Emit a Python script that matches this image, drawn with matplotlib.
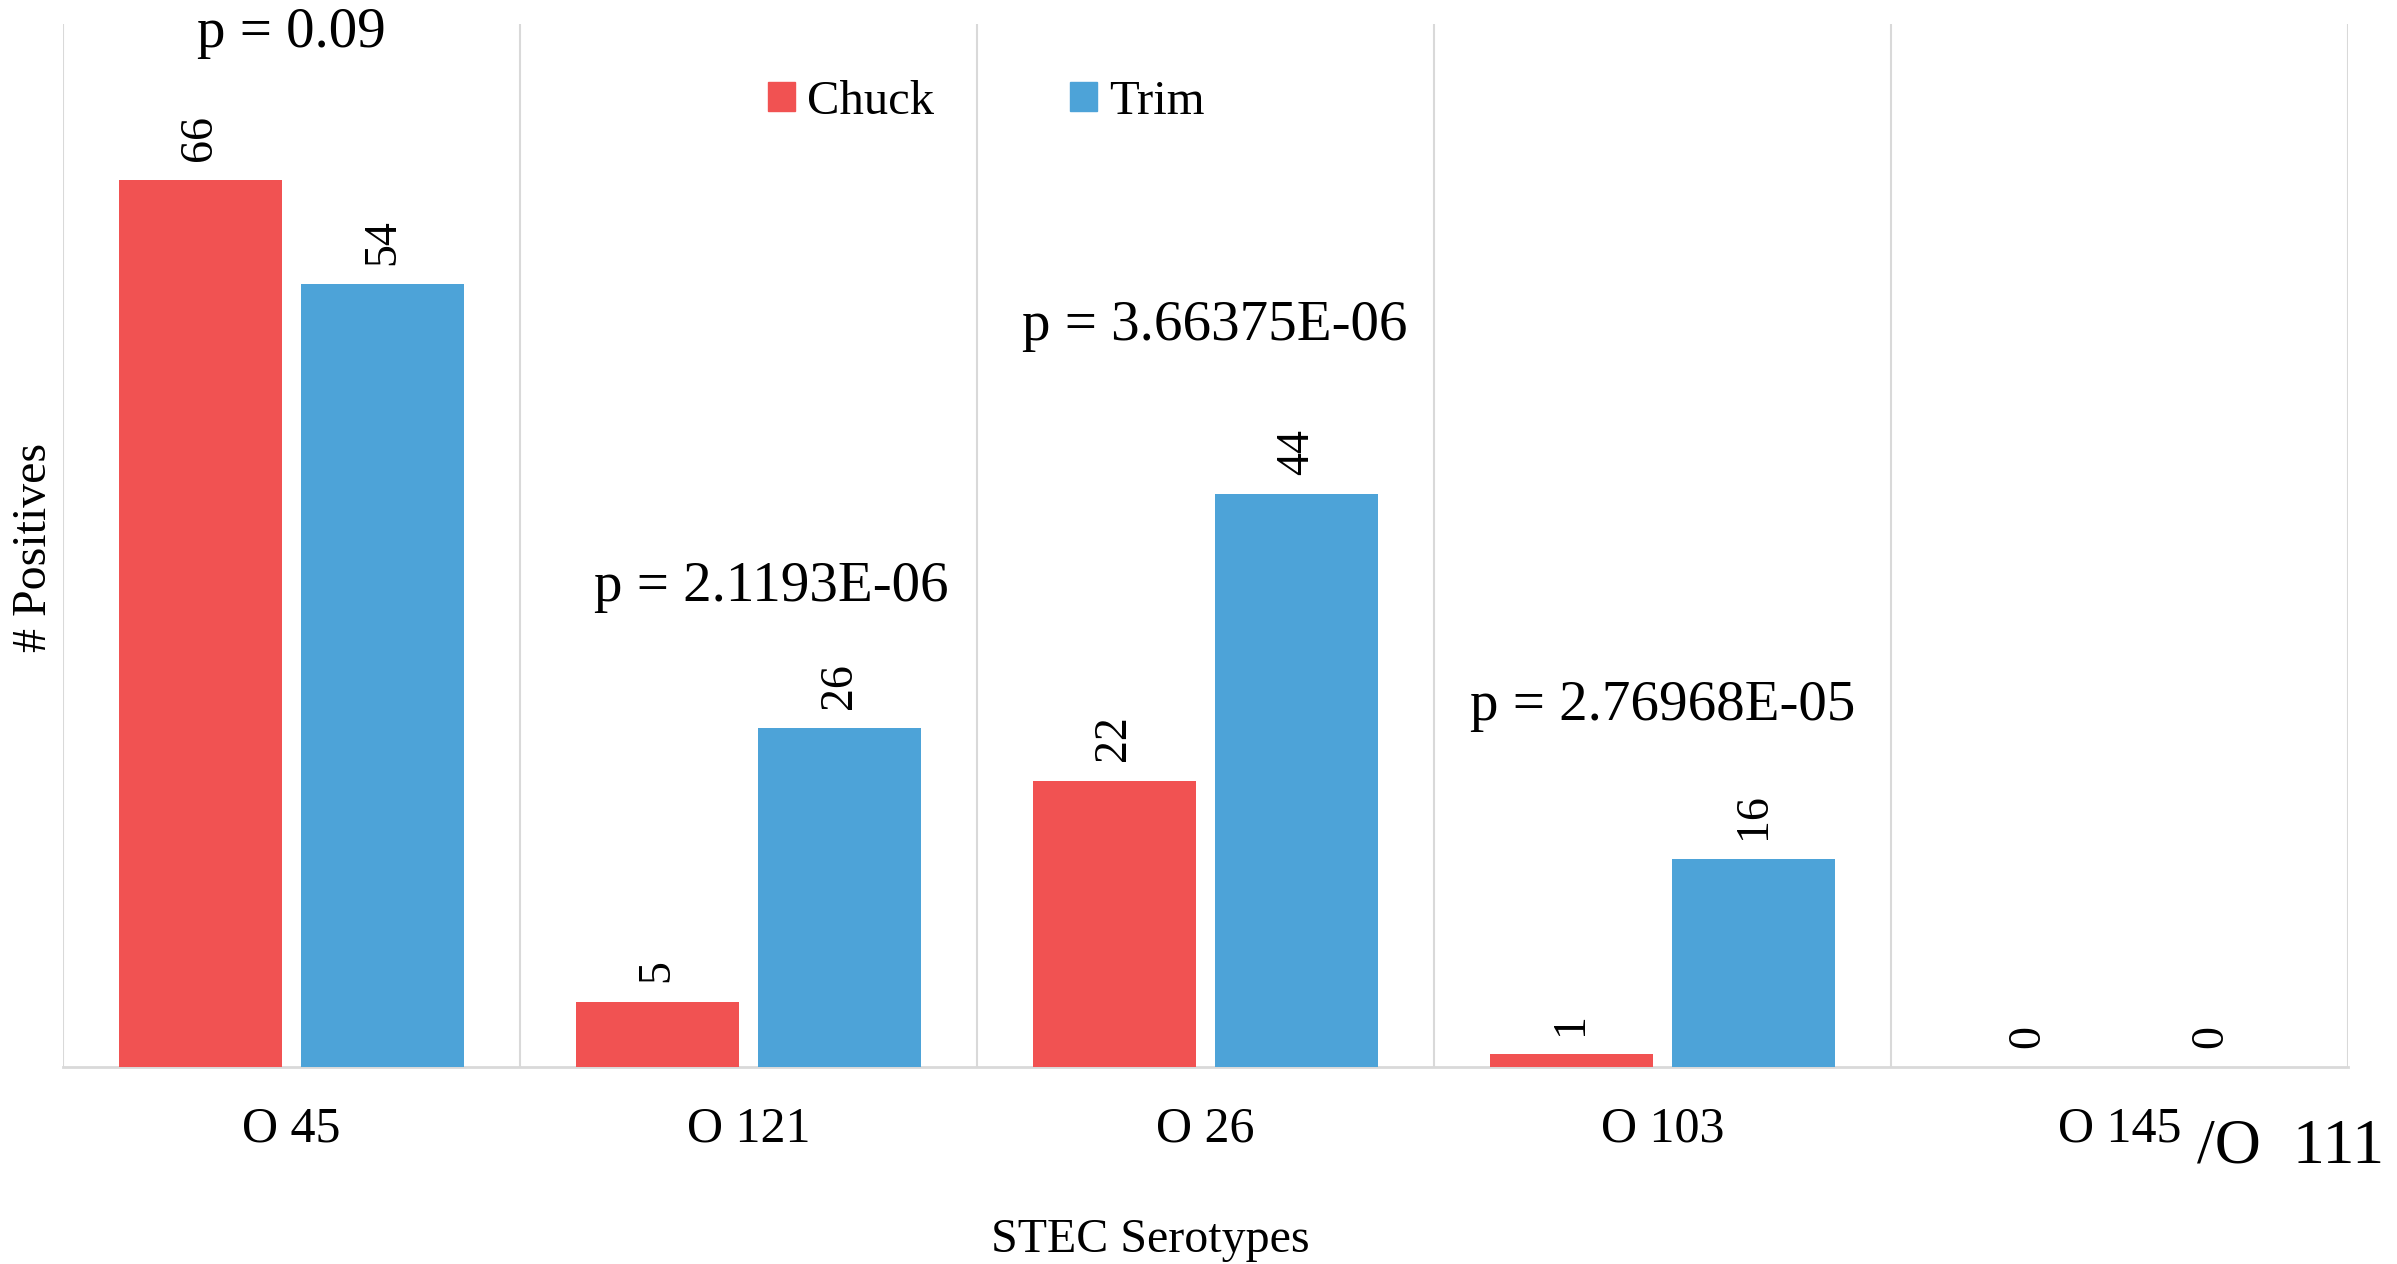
import matplotlib
matplotlib.use("Agg")
import matplotlib.pyplot as plt
from matplotlib.patches import Patch
import numpy as np

plt.rcParams['font.family'] = ['Liberation Serif', 'DejaVu Serif']

categories = ["O 45", "O 121", "O 26", "O 103", "O 145"]
series_names = ["Chuck", "Trim"]
chuck_labels = [66, 5, 22, 1, 0]
trim_labels = [54, 26, 44, 16, 0]
# bar heights as drawn in the reference (first group drawn taller than its labels)
chuck_heights = [68.1, 5, 22, 1, 0]
trim_heights = [60.1, 26, 44, 16, 0]
p_texts = ["p = 0.09", "p = 2.1193E-06", "p = 3.66375E-06", "p = 2.76968E-05"]
extra_tick = "/O  111"

RED = "#F15252"
BLUE = "#4DA3D8"
GRID = "#D9D9D9"

W, H = 2397, 1264
fig = plt.figure(figsize=(W / 100, H / 100), dpi=100)
left, right, bottom, top = 63, 2348, 1067, 24
ax = fig.add_axes([left / W, 1 - bottom / H, (right - left) / W, (bottom - top) / H])

x = np.arange(len(categories))
bw = 0.357
off = 0.2
b1 = ax.bar(x - off, chuck_heights, bw, color=RED, label=series_names[0], zorder=3)
b2 = ax.bar(x + off, trim_heights, bw, color=BLUE, label=series_names[1], zorder=3)

for bars, labs in ((b1, chuck_labels), (b2, trim_labels)):
    for rect, lab in zip(bars, labs):
        ax.annotate(str(lab), (rect.get_x() + rect.get_width() / 2, rect.get_height()),
                    xytext=(0, 14), textcoords="offset points", rotation=90,
                    ha="center", va="bottom", fontsize=33, zorder=4)

ax.set_xlim(-0.5, len(categories) - 0.5)
ax.set_ylim(0, 80.1)
for b in np.arange(-0.5, len(categories), 1.0):
    ax.axvline(b, color=GRID, lw=1.5, zorder=1)

for s in ["top", "right", "left"]:
    ax.spines[s].set_visible(False)
ax.spines["bottom"].set_color(GRID)
ax.spines["bottom"].set_linewidth(2)
ax.set_yticks([])
ax.set_xticks(x)
ax.set_xticklabels(categories, fontsize=36)
ax.tick_params(axis="x", length=0, pad=28)

ax.text(4.17, -0.092, extra_tick, transform=ax.get_xaxis_transform(),
        ha="left", va="baseline", fontsize=46, clip_on=False)

p_pos = [(0.0, 78.3), (1.05, 35.8), (2.02, 55.8), (3.0, 26.65)]
for t, (px, py) in zip(p_texts, p_pos):
    ax.text(px, py, t, ha="center", va="baseline", fontsize=41, clip_on=False, zorder=5)

fig.text(1150 / W, 1 - 1240 / H, "STEC Serotypes", ha="center", va="center", fontsize=34.5)
fig.text(34 / W, 1 - 547 / H, "# Positives", ha="center", va="center", rotation=90, fontsize=34.5)

handles = [Patch(color=RED, label=series_names[0]), Patch(color=BLUE, label=series_names[1])]
fig.legend(handles=handles, loc="center", bbox_to_anchor=(986 / W, 1 - 102 / H), ncol=2,
           frameon=False, fontsize=35, handlelength=0.55, handleheight=0.55,
           handletextpad=0.25, columnspacing=2.8)

fig.savefig("out.png", dpi=100)
